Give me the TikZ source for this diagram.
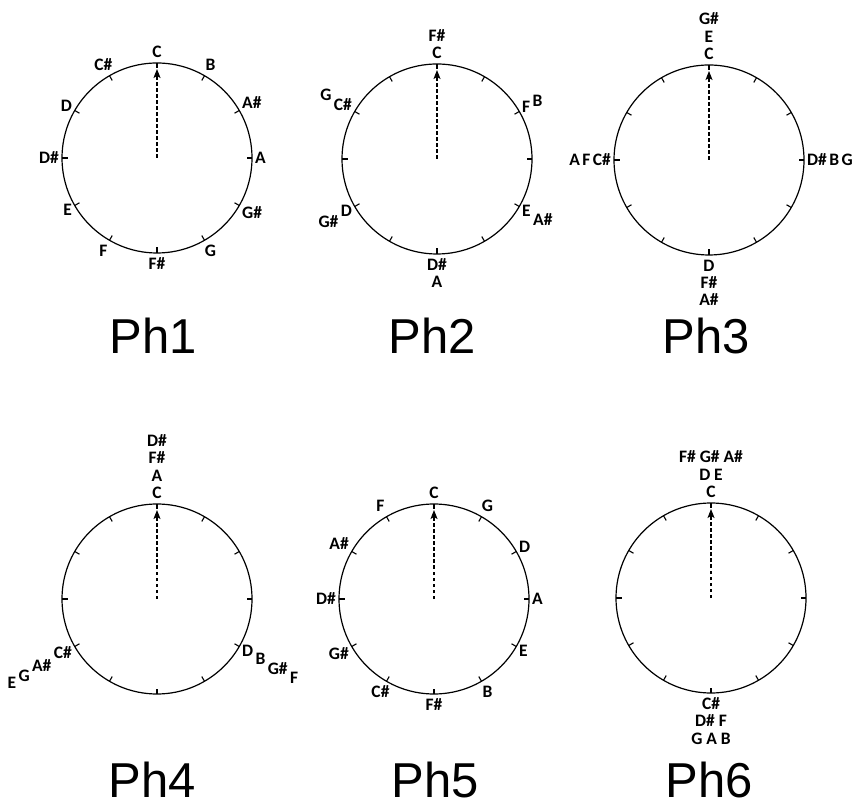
\documentclass[tikz,border=0pt]{standalone}
\usepackage{fontspec}
\newfontfamily\notefont{Carlito}
\newfontfamily\titlefont{Liberation Sans}
\usetikzlibrary{arrows.meta,calc}

\tikzset{
  ring/.style={line width=1.2pt},
  tickmark/.style={line width=1.1pt},
  pointer/.style={line width=1.1pt, dash pattern=on 3.5pt off 2.5pt,
    -{Stealth[length=9pt,width=7pt,inset=2pt]}},
  note/.style={font=\notefont\bfseries\fontsize{17.5}{17.5}\selectfont,
    inner xsep=1pt, inner ysep=3pt, text height=11pt, text depth=0pt},
  title/.style={font=\titlefont\fontsize{49}{49}\selectfont,
    anchor=base, inner sep=0pt},
}

% a dial: circle of radius 95 with twelve inward ticks and a dashed pointer to the top
\newcommand\dial[2]{%
  \coordinate (#1) at #2;
  \draw[ring] (#1) circle[radius=95];
  \foreach \a in {0,30,...,330}
    \draw[tickmark] ($(#1)+(\a:95)$) -- ($(#1)+(\a:89.5)$);
  \draw[pointer] (#1) -- ($(#1)+(0,89)$);
}
% first note next to the rim: centre, direction, anchor, name, text
\newcommand\ringnote[5]{\node[note, anchor=#3] (#4) at ($(#1)+(#2:97)$) {#5};}
% further note stacked outward: previous node, direction, anchor, name, text
\newcommand\nextnote[5]{\node[note, anchor=#3] (#4) at (#1.#2) {#5};}

\begin{document}
\begin{tikzpicture}[x=1pt,y=1pt]
\useasboundingbox (0,0) rectangle (858,803);

% ---------------- Ph1: chromatic order
\dial{c1}{(157,645)}
\ringnote{c1}{90}{270}{a1}{C}
\ringnote{c1}{60}{240}{a2}{B}
\ringnote{c1}{30}{210}{a3}{A\#}
\ringnote{c1}{0}{180}{a4}{A}
\ringnote{c1}{330}{150}{a5}{G\#}
\ringnote{c1}{300}{120}{a6}{G}
\ringnote{c1}{270}{90}{a7}{F\#}
\ringnote{c1}{240}{60}{a8}{F}
\ringnote{c1}{210}{30}{a9}{E}
\ringnote{c1}{180}{0}{a10}{D\#}
\ringnote{c1}{150}{330}{a11}{D}
\ringnote{c1}{120}{300}{a12}{C\#}
\node[title] (t1) at (153,449) {Ph1};

% ---------------- Ph2
\dial{c2}{(437,644)}
\ringnote{c2}{90}{270}{b1}{C}
\nextnote{b1}{90}{270}{b2}{F\#}
\ringnote{c2}{30}{210}{b3}{F}
\nextnote{b3}{30}{210}{b4}{B}
\ringnote{c2}{330}{150}{b5}{E}
\nextnote{b5}{330}{150}{b6}{A\#}
\ringnote{c2}{270}{90}{b7}{D\#}
\nextnote{b7}{270}{90}{b8}{A}
\ringnote{c2}{210}{30}{b9}{D}
\nextnote{b9}{210}{30}{b10}{G\#}
\ringnote{c2}{150}{330}{b11}{C\#}
\nextnote{b11}{150}{330}{b12}{G}
\node[title] (t2) at (432,449) {Ph2};

% ---------------- Ph3
\dial{c3}{(709,643)}
\ringnote{c3}{90}{270}{d1}{C}
\nextnote{d1}{90}{270}{d2}{E}
\nextnote{d2}{90}{270}{d3}{G\#}
\ringnote{c3}{0}{180}{d4}{D\#}
\nextnote{d4}{0}{180}{d5}{B}
\nextnote{d5}{0}{180}{d6}{G}
\ringnote{c3}{270}{90}{d7}{D}
\nextnote{d7}{270}{90}{d8}{F\#}
\nextnote{d8}{270}{90}{d9}{A\#}
\ringnote{c3}{180}{0}{d10}{C\#}
\nextnote{d10}{180}{0}{d11}{F}
\nextnote{d11}{180}{0}{d12}{A}
\node[title] (t3) at (706,449) {Ph3};

% ---------------- Ph4
\dial{c4}{(157,204)}
\ringnote{c4}{90}{270}{e1}{C}
\nextnote{e1}{90}{270}{e2}{A}
\nextnote{e2}{90}{270}{e3}{F\#}
\nextnote{e3}{90}{270}{e4}{D\#}
\ringnote{c4}{330}{150}{e5}{D}
\nextnote{e5}{330}{150}{e6}{B}
\nextnote{e6}{330}{150}{e7}{G\#}
\nextnote{e7}{330}{150}{e8}{F}
\ringnote{c4}{210}{30}{e9}{C\#}
\nextnote{e9}{210}{30}{e10}{A\#}
\nextnote{e10}{210}{30}{e11}{G}
\nextnote{e11}{210}{30}{e12}{E}
\node[title] (t4) at (152,6) {Ph4};

% ---------------- Ph5: circle of fifths
\dial{c5}{(434,204)}
\ringnote{c5}{90}{270}{f1}{C}
\ringnote{c5}{60}{240}{f2}{G}
\ringnote{c5}{30}{210}{f3}{D}
\ringnote{c5}{0}{180}{f4}{A}
\ringnote{c5}{330}{150}{f5}{E}
\ringnote{c5}{300}{120}{f6}{B}
\ringnote{c5}{270}{90}{f7}{F\#}
\ringnote{c5}{240}{60}{f8}{C\#}
\ringnote{c5}{210}{30}{f9}{G\#}
\ringnote{c5}{180}{0}{f10}{D\#}
\ringnote{c5}{150}{330}{f11}{A\#}
\ringnote{c5}{120}{300}{f12}{F}
\node[title] (t5) at (435.5,6) {Ph5};

% ---------------- Ph6
\dial{c6}{(711,205)}
\ringnote{c6}{90}{270}{g1}{C}
\nextnote{g1}{90}{270}{g2}{D E}
\nextnote{g2}{90}{270}{g3}{F\# G\# A\#}
\ringnote{c6}{270}{90}{g4}{C\#}
\nextnote{g4}{270}{90}{g5}{D\# F}
\nextnote{g5}{270}{90}{g6}{G A B}
\node[title] (t6) at (709.5,6) {Ph6};
\end{tikzpicture}
\end{document}
